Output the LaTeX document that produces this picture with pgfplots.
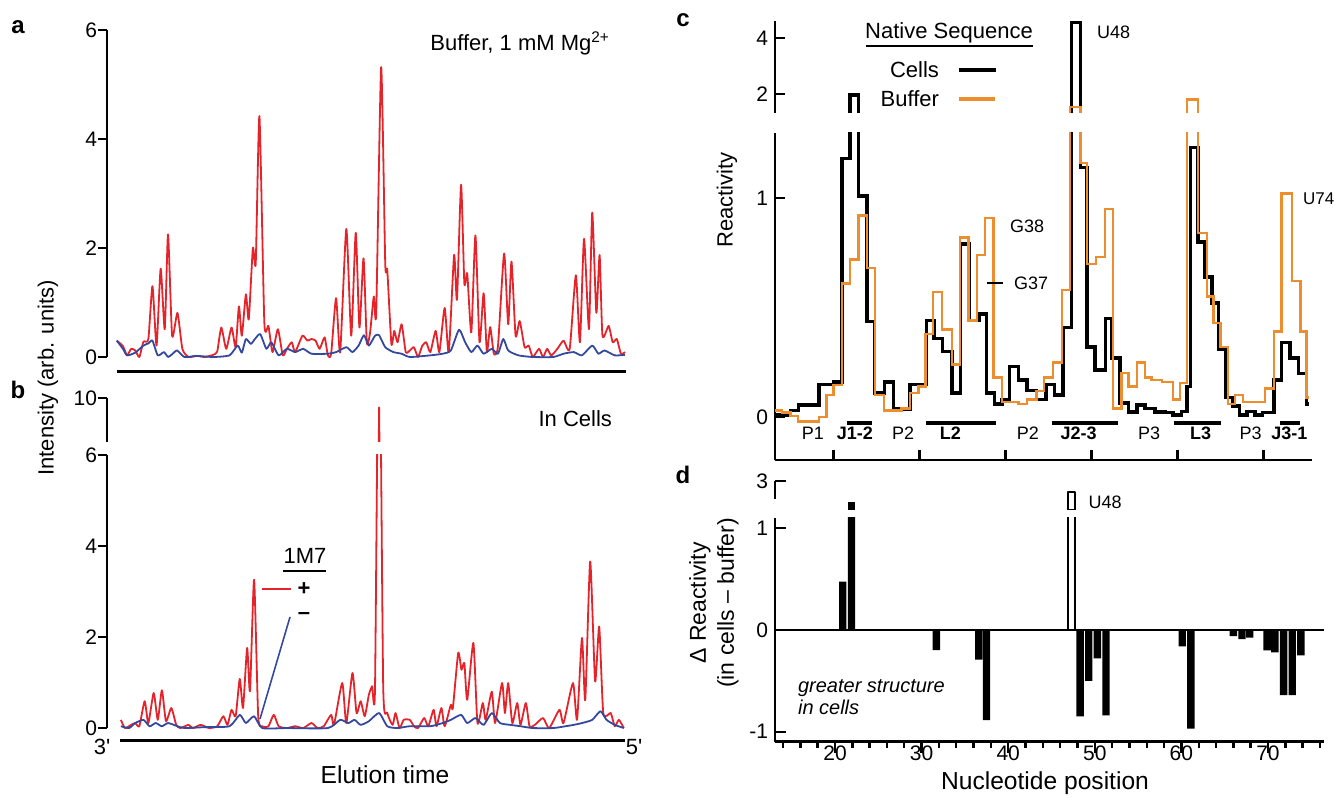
\documentclass[border=0pt]{standalone}
\usepackage{fontspec}
\setmainfont{Liberation Sans}
\usepackage{pgfplots}
\pgfplotsset{compat=1.18}
\definecolor{tred}{RGB}{228,36,42}
\definecolor{tblue}{RGB}{52,72,158}
\definecolor{torange}{RGB}{236,142,46}
\newcommand{\lbl}{\fontsize{11}{13}\selectfont}
\newcommand{\axlbl}{\fontsize{12.3}{14}\selectfont}
\newcommand{\sml}{\fontsize{9}{11}\selectfont}

\pgfplotsset{
  panel/.style={scale only axis, anchor=south west, clip mode=individual,
    /pgf/number format/assume math mode=true,
    tick label style={font=\fontsize{10.5}{12}\selectfont},
    axis line style={line width=1.2pt}, tick style={line width=1.2pt, black},
    major tick length=4.5pt, minor tick length=3pt},
  trace/.style={line width=0.9pt, smooth, tension=0.35},
  every axis plot/.append style={line join=round},
}

\begin{document}
\begin{tikzpicture}[font=\lbl]
\path[use as bounding box] (0,0) rectangle (667.5pt,399pt);

% ---------------- panel a: buffer traces
\begin{axis}[panel, at={(53.5pt,220.5pt)}, width=259.5pt, height=163.5pt,
  xmin=261.1, xmax=1527.4, ymin=0, ymax=6,
  axis y line*=left, axis x line=none, ytick={0,2,4,6}, tick align=outside, clip=false,
  yticklabel style={xshift=3pt}]
\addplot[tred, trace] coordinates {
(285,0.30) (300,0.20) (310,0.03) (320,0.15) (330,0.12) (340,0.00) (350,0.28) (362,0.33)
(372,1.30) (382,0.21) (392,1.62) (402,0.51) (410,2.25) (420,0.39) (433,0.81) (445,0.15)
(460,0.00) (480,0.02) (500,0.00) (520,0.04) (530,0.10) (540,0.54) (552,0.15) (565,0.54)
(575,0.18) (583,0.93) (590,0.39) (600,1.15) (607,0.69) (617,2.00) (624,1.72) (633,4.42)
(645,0.63) (655,0.57) (665,0.09) (678,0.51) (690,0.03) (700,0.15) (712,0.27) (720,0.09)
(738,0.39) (750,0.30) (760,0.33) (770,0.30) (780,0.15) (792,0.36) (800,0.03) (808,0.06)
(820,1.08) (830,0.09) (845,2.35) (857,0.39) (868,2.28) (877,0.54) (887,1.81) (895,0.27)
(903,0.45) (912,1.11) (918,0.81) (930,5.32) (940,1.71) (945,1.59) (955,0.24) (962,0.48)
(970,0.27) (980,0.60) (990,0.09) (1000,0.12) (1010,0.18) (1020,0.00) (1030,0.20) (1040,0.27)
(1050,0.09) (1063,0.48) (1072,0.09) (1085,0.90) (1095,0.09) (1108,1.87) (1115,1.05) (1125,3.16)
(1133,1.35) (1140,1.53) (1150,0.45) (1160,2.23) (1170,0.27) (1180,1.17) (1188,0.09) (1196,0.55)
(1205,0.06) (1215,0.20) (1230,1.90) (1240,0.60) (1248,1.75) (1258,0.39) (1268,0.66) (1280,0.18)
(1290,0.21) (1300,0.00) (1315,0.15) (1325,0.00) (1335,0.15) (1345,0.03) (1360,0.15) (1375,0.30)
(1390,0.15) (1405,1.50) (1415,0.27) (1425,2.17) (1437,0.51) (1445,2.65) (1455,0.81) (1463,1.87)
(1470,0.39) (1485,0.57) (1495,0.27) (1505,0.33) (1515,0.06) (1525,0.09)};
\addplot[tblue, trace] coordinates {
(285,0.30) (300,0.15) (310,0.03) (330,0.08) (350,0.21) (362,0.25) (372,0.30) (385,0.03)
(400,0.09) (410,0.00) (420,0.05) (432,0.12) (450,0.00) (480,0.02) (520,0.00) (560,0.03)
(580,0.21) (590,0.08) (600,0.33) (612,0.24) (622,0.33) (635,0.42) (650,0.15) (662,0.27)
(680,0.03) (700,0.15) (720,0.09) (740,0.15) (760,0.06) (800,0.06) (820,0.09) (845,0.18)
(860,0.09) (875,0.21) (888,0.40) (900,0.21) (915,0.39) (925,0.40) (940,0.18) (960,0.09)
(980,0.06) (1000,0.00) (1050,0.03) (1080,0.06) (1100,0.12) (1120,0.50) (1135,0.27) (1150,0.09)
(1165,0.21) (1180,0.06) (1200,0.15) (1215,0.06) (1228,0.33) (1240,0.12) (1265,0.03) (1300,0.00)
(1350,0.00) (1375,0.06) (1400,0.09) (1420,0.03) (1445,0.21) (1460,0.06) (1475,0.12) (1500,0.03)
(1525,0.04)};
\end{axis}

% ---------------- panel b: in-cell traces (lower part)
\begin{axis}[panel, at={(53.5pt,32.7pt)}, width=259.5pt, height=138.8pt,
  xmin=261.1, xmax=1527.4, ymin=-0.1, ymax=6,
  axis y line*=left, axis x line=none, ytick={0,2,4,6}, tick align=outside,
  yticklabel style={xshift=3pt}, y axis line style={shorten <=2.3pt}]
\addplot[tred, trace] coordinates {
(295,0.18) (305,0.00) (320,0.07) (330,0.11) (340,0.04) (353,0.59) (362,0.11) (375,0.77)
(385,0.18) (395,0.83) (405,0.15) (418,0.44) (430,0.07) (440,0.00) (460,0.07) (470,0.00)
(490,0.07) (510,0.00) (530,0.04) (545,0.26) (555,0.07) (565,0.40) (575,0.26) (585,1.08)
(593,0.44) (603,1.76) (610,0.81) (620,3.26) (630,0.26) (640,0.04) (655,0.04) (668,0.29)
(680,0.04) (700,0.00) (720,0.04) (740,0.00) (760,0.11) (775,0.00) (790,0.04) (808,0.29)
(815,0.07) (835,0.99) (845,0.11) (860,1.21) (870,0.33) (880,0.59) (890,0.26) (900,0.73)
(908,0.92) (915,0.88) (925,9.80) (935,0.92) (945,0.33) (958,0.07) (965,0.33) (975,0.00)
(985,0.18) (1000,0.18) (1010,0.04) (1020,0.00) (1035,0.22) (1045,0.04) (1058,0.40) (1065,0.04)
(1077,0.44) (1085,0.04) (1100,0.51) (1105,0.44) (1118,1.65) (1126,1.28) (1133,1.43) (1140,0.62)
(1155,1.87) (1165,0.11) (1178,0.55) (1185,0.18) (1200,0.80) (1208,0.11) (1225,0.99) (1232,0.33)
(1240,0.99) (1250,0.11) (1262,0.55) (1270,0.07) (1283,0.55) (1292,0.04) (1305,0.07) (1325,0.22)
(1340,0.00) (1365,0.40) (1375,0.11) (1398,0.99) (1408,0.18) (1420,1.98) (1428,0.62) (1440,3.66)
(1452,1.03) (1462,2.23) (1472,0.33) (1490,0.33) (1500,0.04) (1510,0.18) (1522,0.00)};
\addplot[tblue, trace] coordinates {
(295,0.04) (315,0.00) (330,0.11) (350,0.18) (365,0.04) (380,0.11) (395,0.04) (410,0.11)
(430,0.05) (450,0.00) (500,0.02) (560,0.04) (585,0.29) (600,0.11) (620,0.26) (640,0.00)
(700,0.00) (800,0.00) (830,0.18) (850,0.11) (865,0.18) (880,0.07) (900,0.15) (925,0.33)
(945,0.04) (970,0.00) (1000,0.04) (1050,0.04) (1080,0.11) (1100,0.18) (1125,0.29) (1140,0.11)
(1160,0.22) (1180,0.07) (1200,0.33) (1220,0.11) (1245,0.07) (1270,0.04) (1300,0.00) (1350,0.00)
(1380,0.04) (1400,0.07) (1420,0.11) (1445,0.18) (1465,0.37) (1480,0.18) (1500,0.07) (1522,0.00)};
\end{axis}

% ---------------- panel b: upper part of the broken axis
\begin{axis}[panel, at={(53.5pt,178.2pt)}, width=259.5pt, height=21.65pt,
  xmin=261.1, xmax=1527.4, ymin=9.05, ymax=10,
  axis y line*=left, axis x line=none, ytick={10}, tick align=outside,
  yticklabel style={xshift=3pt}]
\addplot[tred, line width=0.9pt] coordinates {
(915,0.88) (925,9.80) (935,0.92)};
\end{axis}

% ---------------- panel c: reactivity (lower part)
\begin{axis}[panel, at={(387.5pt,169pt)}, width=268.5pt, height=163.5pt,
  xmin=13.2, xmax=75.64, ymin=-0.196, ymax=1.297,
  axis y line*=left, axis x line*=bottom, ytick={0,1}, xtick={20,30,...,70},
  xticklabels={}, tick align=inside, major tick length=5pt]
\addplot[const plot, black, line width=1.7pt, line join=miter] coordinates {
(13.2,0.01) (15.0,0.03) (15.9,0.055) (18.3,0.15) (20.0,0.16) (21.0,1.18) (21.9,1.96) (22.9,1.01)
(23.9,0.435) (24.8,0.11) (25.9,0.16) (27.0,0.04) (27.9,0.035) (28.9,0.15) (30.8,0.44) (31.7,0.36)
(32.7,0.30) (33.8,0.11) (34.8,0.79) (35.8,0.44) (36.9,0.47) (37.8,0.11) (38.7,0.06) (39.6,0.08)
(40.5,0.23) (41.5,0.17) (42.5,0.12) (43.6,0.08) (44.7,0.15) (45.7,0.10) (46.7,0.41) (47.7,4.55)
(48.7,1.14) (49.5,0.32) (50.4,0.215) (51.6,0.45) (52.4,0.27) (53.3,0.064) (54.3,0.024) (55.3,0.055)
(56.2,0.04) (57.4,0.024) (58.6,0.02) (59.5,0.01) (60.5,0.025) (61.1,0.14) (61.5,1.23) (62.4,0.80)
(63.2,0.64) (64.0,0.52) (64.8,0.31) (65.6,0.09) (66.4,0.05) (67.2,0.01) (68.1,0.025) (69.0,0.01)
(69.9,0.02) (71.2,0.17) (72.1,0.34) (73.1,0.27) (74.1,0.20) (75.0,0.06) (75.25,0.06)};
\addplot[const plot, torange, line width=1.2pt, line join=miter] coordinates {
(13.2,0.03) (14.0,0.02) (15.0,0.005) (15.9,-0.02) (18.3,0.0) (19.2,0.10) (20.0,0.146) (21.0,0.61)
(21.9,0.72) (22.9,0.92) (23.9,0.68) (24.8,0.10) (25.9,0.03) (27.0,0.03) (27.9,0.04) (28.9,0.11)
(29.9,0.14) (30.7,0.38) (31.6,0.57) (32.6,0.40) (33.8,0.24) (34.7,0.82) (35.7,0.44) (36.7,0.74)
(37.6,0.91) (38.6,0.18) (39.6,0.07) (41.5,0.06) (42.5,0.08) (43.6,0.12) (44.5,0.18) (45.5,0.25)
(46.6,0.58) (47.5,1.54) (48.7,1.16) (49.5,0.70) (50.5,0.73) (51.6,0.95) (52.5,0.04) (53.5,0.20)
(54.3,0.14) (55.3,0.25) (56.2,0.18) (57.0,0.17) (58.2,0.16) (59.5,0.08) (60.3,0.155) (61.1,1.80)
(62.4,0.84) (63.4,0.55) (64.2,0.43) (65.0,0.32) (65.9,0.06) (66.7,0.10) (67.6,0.07) (68.6,0.07)
(69.4,0.07) (70.2,0.13) (71.2,0.39) (72.1,1.02) (73.3,0.62) (74.3,0.39) (75.0,0.09) (75.25,0.09)};
% structural regions
\draw[line width=2pt] (axis cs:21.6,-0.027) -- (axis cs:24.5,-0.027);
\draw[line width=2pt] (axis cs:30.8,-0.027) -- (axis cs:38.9,-0.027);
\draw[line width=2pt] (axis cs:45.4,-0.027) -- (axis cs:53.1,-0.027);
\draw[line width=2pt] (axis cs:59.6,-0.027) -- (axis cs:65.1,-0.027);
\draw[line width=2pt] (axis cs:71.9,-0.027) -- (axis cs:74.3,-0.027);
\node[font=\sml] at (axis cs:17.6,-0.075) {P1};
\node[font=\sml] at (axis cs:28.1,-0.075) {P2};
\node[font=\sml] at (axis cs:42.6,-0.075) {P2};
\node[font=\sml] at (axis cs:56.7,-0.075) {P3};
\node[font=\sml] at (axis cs:68.5,-0.075) {P3};
\node[font=\sml\bfseries] at (axis cs:22.5,-0.075) {J1-2};
\node[font=\sml\bfseries] at (axis cs:33.6,-0.075) {L2};
\node[font=\sml\bfseries] at (axis cs:48.5,-0.075) {J2-3};
\node[font=\sml\bfseries] at (axis cs:62.7,-0.075) {L3};
\node[font=\sml\bfseries] at (axis cs:73.0,-0.075) {J3-1};
\end{axis}

% ---------------- panel c: upper part of the broken axis
\begin{axis}[panel, at={(387.5pt,342.5pt)}, width=268.5pt, height=46.2pt,
  xmin=13.2, xmax=75.64, ymin=1.32, ymax=4.62,
  axis y line*=left, axis x line=none, ytick={2,4}, tick align=inside, major tick length=5pt]
\addplot[const plot, black, line width=1.7pt, line join=miter] coordinates {
(21.0,1.18) (21.9,1.96) (22.9,1.01) (23.9,0.435)};
\addplot[const plot, black, line width=1.7pt, line join=miter] coordinates {
(46.7,0.41) (47.7,4.55) (48.7,1.14) (49.5,0.32)};
\addplot[const plot, torange, line width=1.2pt, line join=miter] coordinates {
(46.6,0.58) (47.5,1.54) (48.7,1.16) (49.5,0.70)};
\addplot[const plot, torange, line width=1.2pt, line join=miter] coordinates {
(60.3,0.155) (61.1,1.80) (62.4,0.84) (63.4,0.55)};
\end{axis}

% ---------------- panel d: difference (lower part)
\begin{axis}[panel, at={(387.5pt,28.15pt)}, width=274.5pt, height=111.85pt,
  xmin=13.07, xmax=76.47, ymin=-1.098, ymax=1.101,
  axis y line*=left, axis x line*=bottom, ytick={-1,0,1},
  xtick={20,30,...,70}, minor xtick={14,16,...,76}, tick align=inside,
  major tick length=5.5pt, minor tick length=3pt,
  xticklabel style={yshift=7pt},
  ybar, bar width=0.85, bar shift=0pt]
\draw[line width=1.2pt] (axis cs:13.07,0) -- (axis cs:76.47,0);
\addplot[fill=black, draw=none] coordinates {
(20.9,0.475) (21.9,1.7) (31.7,-0.197) (36.6,-0.29) (37.5,-0.885)
(48.3,-0.85) (49.3,-0.50) (50.3,-0.28) (51.3,-0.84) (60.1,-0.16) (61.1,-0.97)
(66.0,-0.06) (67.0,-0.09) (67.9,-0.075) (69.9,-0.20) (70.8,-0.22) (71.8,-0.64) (72.8,-0.64) (73.8,-0.25)};
\addplot[fill=white, draw=black, line width=0.9pt] coordinates {(47.3,2.32)};
\end{axis}

% ---------------- panel d: upper part of the broken axis
\begin{axis}[panel, at={(387.5pt,144pt)}, width=274.5pt, height=14.5pt,
  xmin=13.07, xmax=76.47, ymin=1.2, ymax=3,
  axis y line*=left, axis x line=none, ytick={3}, tick align=inside, major tick length=5.5pt,
  y axis line style={shorten <=5.5pt},
  ybar, bar width=0.85, bar shift=0pt]
\addplot[fill=black, draw=none] coordinates {(21.9,1.7)};
\addplot[fill=white, draw=black, line width=0.9pt] coordinates {(47.3,2.32)};
\end{axis}

% ---------------- annotations, panels a and b
\node[font=\fontsize{12}{14}\selectfont\bfseries] at (9pt,385.5pt) {a};
\node[font=\fontsize{12}{14}\selectfont\bfseries] at (9pt,204pt) {b};
\node[anchor=east] at (308.5pt,377.5pt) {Buffer, 1 mM Mg\textsuperscript{2+}};
\node[anchor=east] at (309.5pt,189.5pt) {In Cells};
\node[rotate=90] at (24pt,210pt) {Intensity (arb. units)};
\node[font=\axlbl] at (192.5pt,11.5pt) {Elution time};
\node at (51pt,25.5pt) {3\textquotesingle};
\node at (317pt,25.5pt) {5\textquotesingle};
\draw[line width=1.5pt] (58.5pt,213pt) -- (313pt,213pt);
\draw[line width=1.5pt] (60pt,28.7pt) -- (312.5pt,28.7pt);
\node at (152.5pt,121pt) {1M7};
\draw[line width=0.8pt] (141.5pt,113.5pt) -- (163pt,113.5pt);
\draw[tred, line width=0.9pt] (131pt,104.5pt) -- (145.5pt,104.5pt);
\node[font=\lbl\bfseries] at (152pt,104.5pt) {+};
\node[font=\lbl\bfseries] at (152pt,91pt) {–};
\draw[tblue, line width=0.8pt] (145pt,90.5pt) -- (130pt,39.5pt);

% ---------------- annotations, panels c and d
\node[font=\fontsize{12}{14}\selectfont\bfseries] at (341.5pt,389pt) {c};
\node[font=\fontsize{12}{14}\selectfont\bfseries] at (341.5pt,161.5pt) {d};
\node[rotate=90] at (363.5pt,299pt) {Reactivity};
\node at (474.5pt,382.5pt) {Native Sequence};
\draw[line width=0.8pt] (433pt,376pt) -- (516.5pt,376pt);
\node[anchor=east] at (473pt,364pt) {Cells};
\draw[line width=2pt] (479.3pt,364pt) -- (497.9pt,364pt);
\node[anchor=east] at (473pt,349.5pt) {Buffer};
\draw[torange, line width=2pt] (479.3pt,349.5pt) -- (497.7pt,349.5pt);
\node[font=\sml, anchor=west] at (545pt,383pt) {U48};
\node[font=\sml, anchor=west] at (501.5pt,286pt) {G38};
\node[font=\sml, anchor=west] at (503.5pt,257.5pt) {G37};
\draw[line width=0.8pt] (493.3pt,257.5pt) -- (501.7pt,257.5pt);
\node[font=\fontsize{8.5}{10}\selectfont, anchor=west] at (648pt,299.5pt) {U74};
\node[font=\sml, anchor=west] at (540.8pt,147.7pt) {U48};
\node[rotate=90, align=center, font=\fontsize{11.5}{14}\selectfont] at (357pt,97.5pt)
  {Δ Reactivity\\(in cells – buffer)};
\node[font=\fontsize{10}{11}\selectfont\itshape, anchor=west, align=left] at (395.5pt,50.5pt)
  {greater structure\\in cells};
\node[font=\axlbl] at (522.5pt,7.5pt) {Nucleotide position};
\end{tikzpicture}
\end{document}
